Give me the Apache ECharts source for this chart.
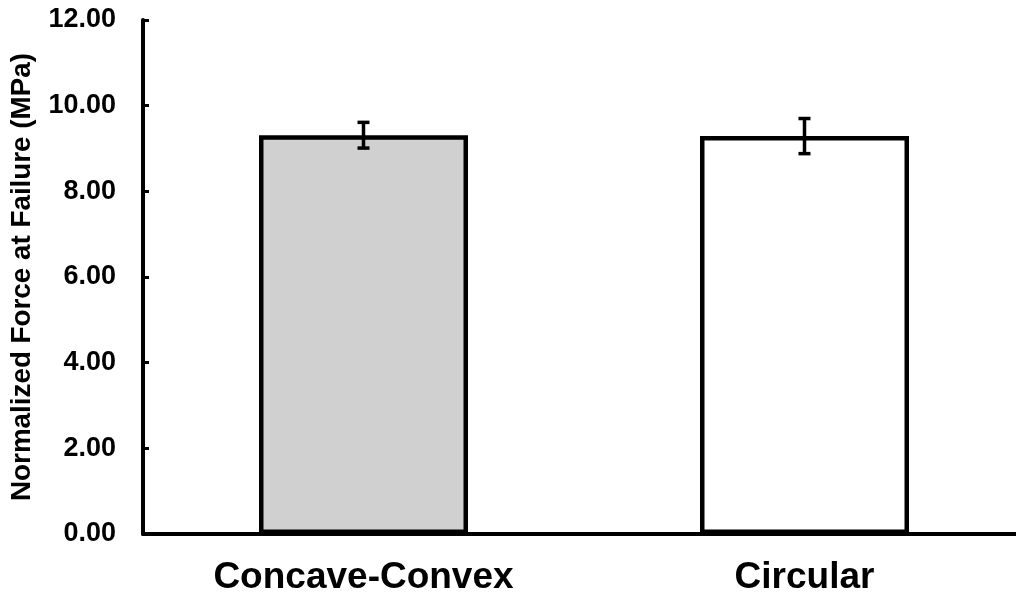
<!DOCTYPE html>
<html>
<head>
<meta charset="utf-8">
<script src="https://cdn.jsdelivr.net/npm/echarts@6/dist/echarts.min.js"></script>
<style>
html,body{margin:0;padding:0;background:#fff;}
#chart{width:1016px;height:596px;}
</style>
</head>
<body>
<div id="chart"></div>
<script>
const categories = ['Concave-Convex', 'Circular'];
const meanValues = [9.31, 9.29];
const errorValues = [0.30, 0.41];
const barColors = ['#d0d0d0', '#ffffff'];
const yAxisTitle = 'Normalized Force at Failure (MPa)';

const chart = echarts.init(document.getElementById('chart'));
const FONT = '"Liberation Sans", Arial, sans-serif';

chart.setOption({
  animation: false,
  backgroundColor: '#ffffff',
  grid: { left: 143, top: 20, width: 882, bottom: 62, containLabel: false, outerBoundsMode: 'none' },
  xAxis: {
    type: 'category',
    data: categories,
    axisLine: { show: true, lineStyle: { color: '#000', width: 4 } },
    axisTick: { show: false },
    axisLabel: { color: '#000', fontFamily: FONT, fontWeight: 'bold', fontSize: 37, margin: 25 },
    splitLine: { show: false }
  },
  yAxis: {
    type: 'value',
    min: 0, max: 12, interval: 2,
    name: yAxisTitle,
    nameLocation: 'middle',
    nameGap: 107,
    nameTextStyle: { color: '#000', fontFamily: FONT, fontWeight: 'bold', fontSize: 27.8 },
    axisLine: { show: true, lineStyle: { color: '#000', width: 4 } },
    axisTick: { show: true, inside: true, length: 6, lineStyle: { color: '#000', width: 3 } },
    axisLabel: { color: '#000', fontFamily: FONT, fontWeight: 'bold', fontSize: 27, margin: 27,
      formatter: v => v.toFixed(2) },
    splitLine: { show: false }
  },
  series: [
    {
      type: 'bar',
      data: meanValues.map((v, i) => ({ value: v, itemStyle: { color: barColors[i] } })),
      barWidth: 209,
      itemStyle: { borderColor: '#000', borderWidth: 4.5 },
      z: 2
    },
    {
      type: 'custom',
      data: meanValues.map((v, i) => [i, v - errorValues[i], v + errorValues[i]]),
      z: 5,
      renderItem: function (params, api) {
        const x = api.value(0);
        const lo = api.coord([x, api.value(1)]);
        const hi = api.coord([x, api.value(2)]);
        const hw = 6;
        const style = { stroke: '#000', lineWidth: 3.5, fill: null };
        return {
          type: 'group',
          children: [
            { type: 'line', shape: { x1: lo[0], y1: lo[1], x2: hi[0], y2: hi[1] }, style: style },
            { type: 'line', shape: { x1: hi[0] - hw, y1: hi[1], x2: hi[0] + hw, y2: hi[1] }, style: style },
            { type: 'line', shape: { x1: lo[0] - hw, y1: lo[1], x2: lo[0] + hw, y2: lo[1] }, style: style }
          ]
        };
      }
    }
  ]
});
</script>
</body>
</html>
